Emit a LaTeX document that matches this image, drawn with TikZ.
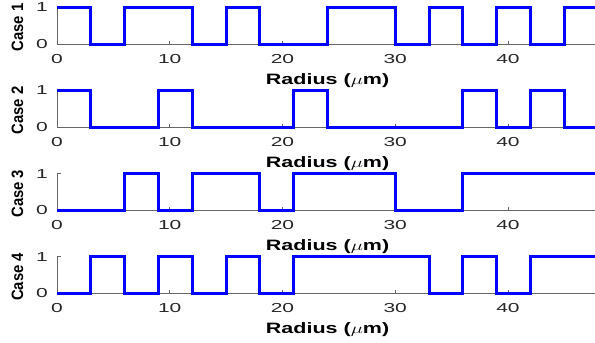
\documentclass[tikz,border=0pt]{standalone}
\usepackage{fontspec}
\setmainfont{Liberation Sans}
\usetikzlibrary{positioning}

\tikzset{
  trace/.style = {blue, line width = 3pt},
  axisline/.style = {black!60, line width = 0.7pt},
  ticklabel/.style = {font = \fontsize{21}{21}\selectfont, yscale = 0.62, inner sep = 0pt, text = black!85},
  radiuslabel/.style = {font = \bfseries\fontsize{21.5}{22}\selectfont, yscale = 0.7, inner sep = 0pt},
  caselabel/.style = {font = \bfseries\fontsize{16.5}{16.5}\selectfont, rotate = 90, xscale = 0.9, inner sep = 0pt}
}

\begin{document}
\begin{tikzpicture}[x = 11.275pt, y = 36.6pt]
\useasboundingbox (-57pt,-299pt) rectangle (538pt,44pt);
\clip (-57pt,-299pt) rectangle (538pt,44pt);
\foreach \k in {1,...,4} {
\begin{scope}[yshift = {-(\k-1)*83.1pt}]
\draw[axisline] (0,1) -- (0,0) -- (48,0);
\draw[axisline] (0,1) -- ++(4pt,0) (0,0) -- ++(4pt,0);
\foreach \t in {10,20,30,40} \draw[axisline] (\t,0) -- ++(0,3.5pt);
\foreach \t in {0,10,20,30,40} \node[ticklabel, anchor = base] (xt\k-\t) at ([yshift = -19.3pt]\t,0) {\t};
\node[ticklabel, anchor = east] (yt\k-0) at ([xshift = -9pt]0,0) {0};
\node[ticklabel, anchor = east] (yt\k-1) at ([xshift = -9pt]0,1) {1};
\node[radiuslabel, anchor = base] (rad\k) at ([yshift = -40pt]24,0) {Radius ($\mu$m)};
\node[caselabel] (case\k) at (-39.5pt,16.5pt) {Case \k};
\end{scope}
}
% the four profiles
\draw[trace] (0,1) -| (3,0) -| (6,1) -| (12,0) -| (15,1) -| (18,0) -| (24,1) -| (30,0) -| (33,1) -| (36,0) -| (39,1) -| (42,0) -| (45,1) -- (48,1);
\begin{scope}[yshift = -83.1pt]
\draw[trace] (0,1) -| (3,0) -| (9,1) -| (12,0) -| (21,1) -| (24,0) -| (36,1) -| (39,0) -| (42,1) -| (45,0) -- (48,0);
\end{scope}
\begin{scope}[yshift = -166.2pt]
\draw[trace] (0,0) -| (6,1) -| (9,0) -| (12,1) -| (18,0) -| (21,1) -| (30,0) -| (36,1) -- (48,1);
\end{scope}
\begin{scope}[yshift = -249.3pt]
\draw[trace] (0,0) -| (3,1) -| (6,0) -| (9,1) -| (12,0) -| (15,1) -| (18,0) -| (21,1) -| (33,0) -| (36,1) -| (39,0) -| (42,1) -- (48,1);
\end{scope}
\end{tikzpicture}
\end{document}
